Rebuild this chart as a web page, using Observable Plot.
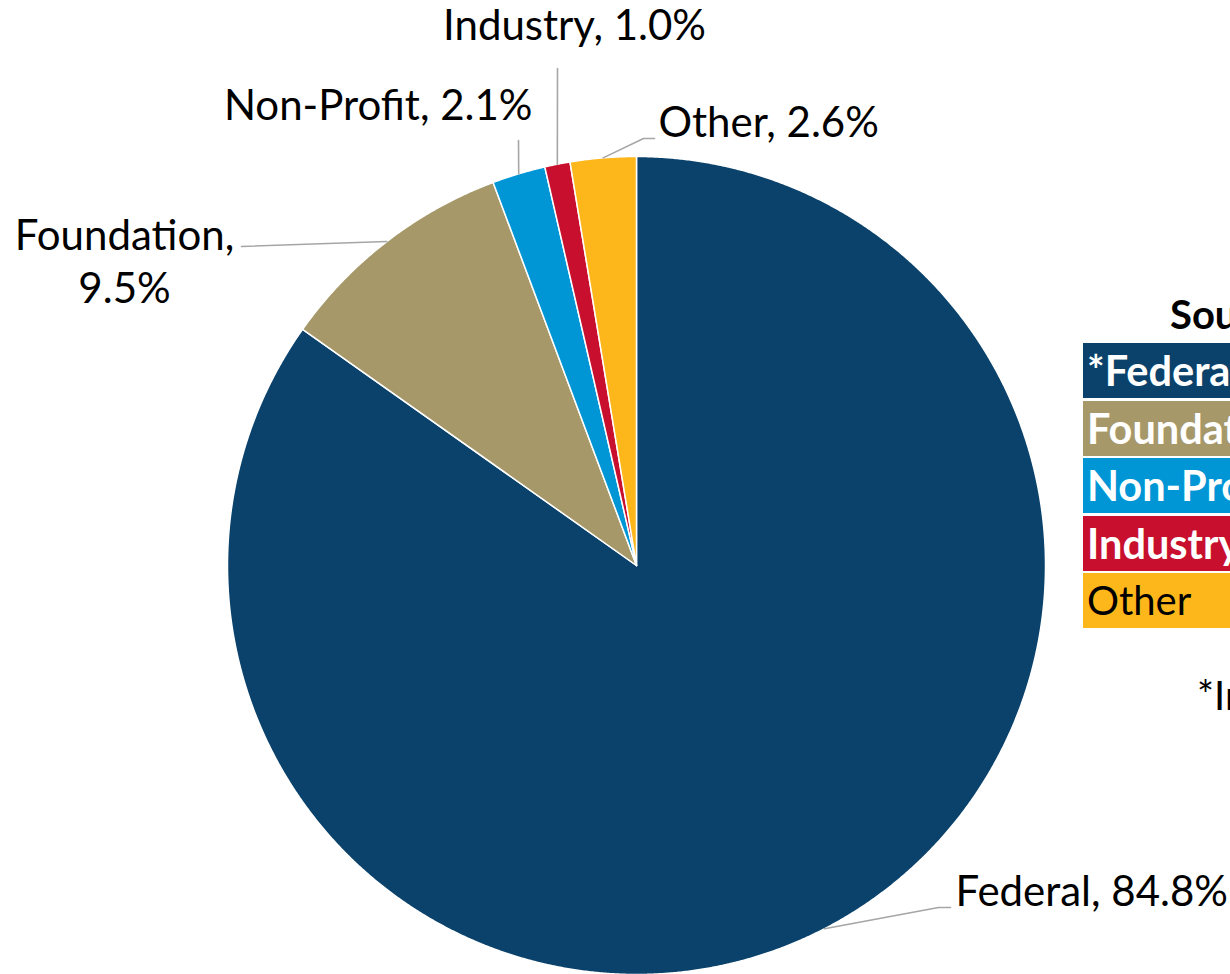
<!DOCTYPE html>
<html>
<head>
<meta charset="utf-8">
<script src="https://cdn.jsdelivr.net/npm/d3@7"></script>
<script src="https://cdn.jsdelivr.net/npm/@observablehq/plot@0.6"></script>
<style>
  html, body { margin: 0; padding: 0; background: #fff; overflow: hidden; }
  #wrap { position: relative; width: 1230px; height: 974px; overflow: hidden; font-family: Lato, "Open Sans", sans-serif; }
  #wrap svg { position: absolute; left: 0; top: 0; }
  .legend { position: absolute; left: 1083px; top: 343px; width: 300px; }
  .row { height: 55px; margin-bottom: 2.6px; line-height: 55px; padding-left: 4px; font-size: 41.5px; font-weight: bold; color: #fff; white-space: nowrap; }
  .row.plain { font-weight: normal; color: #000; font-size: 40px; }
  .ltitle { position: absolute; left: 1170px; top: 290px; font-size: 40px; font-weight: bold; white-space: nowrap; line-height: 48px; }
  .foot { position: absolute; left: 1197px; top: 671px; font-size: 40px; white-space: nowrap; line-height: 48px; }
</style>
</head>
<body>
<div id="wrap"></div>
<script>
// ---- data ----
const categories = ["Federal", "Foundation", "Non-Profit", "Industry", "Other"];
const shares = [84.8, 9.5, 2.1, 1.0, 2.6];
const colors = ["#0A426B", "#A69868", "#0096D6", "#C8102E", "#FDB71A"];
const legendTitle = "Sources";
const legendLabels = ["*Federal", "Foundation", "Non-Profit", "Industry", "Other"];
const footnote = "*Includes";

// ---- layout ----
const W = 1230, H = 974;
const cx = 636, cy = 565, R = 409;
const FS = 42;
// leader elbows and text anchors (pixels), per category; ty = baseline of first line
const labelLayout = {
  "Federal":    {path: [[938, 907], [950, 907]], tx: 955, ty: 906, anchor: "start", lines: 1},
  "Foundation": {path: [[241, 246]], tx: 124, ty: 250, anchor: "middle", lines: 2},
  "Non-Profit": {path: [[518, 140]], tx: 532, ty: 120, anchor: "end", lines: 1},
  "Industry":   {path: [[557, 68]], tx: 574, ty: 40, anchor: "middle", lines: 1},
  "Other":      {path: [[643, 138], [654, 138]], tx: 658, ty: 137, anchor: "start", lines: 1}
};

const data = categories.map((c, i) => ({cat: c, v: shares[i], color: colors[i]}));
const arcs = d3.pie().sort(null).value(d => d.v)(data);

const px = a => cx + R * Math.sin(a);
const py = a => cy - R * Math.cos(a);

// slice polygons
const slicePts = [];
arcs.forEach(a => {
  const cat = a.data.cat;
  slicePts.push({cat, x: cx, y: cy});
  const n = Math.max(2, Math.ceil((a.endAngle - a.startAngle) / 0.004));
  for (let k = 0; k <= n; k++) {
    const t = a.startAngle + (a.endAngle - a.startAngle) * k / n;
    slicePts.push({cat, x: px(t), y: py(t)});
  }
  slicePts.push({cat, x: cx, y: cy});
});

// leaders
const leaderPts = [];
arcs.forEach(a => {
  const cat = a.data.cat;
  const mid = (a.startAngle + a.endAngle) / 2;
  leaderPts.push({cat, x: px(mid), y: py(mid)});
  labelLayout[cat].path.forEach(p => leaderPts.push({cat, x: p[0], y: p[1]}));
});

// labels
const labels = arcs.map(a => {
  const L = labelLayout[a.data.cat];
  const txt = L.lines === 2 ? `${a.data.cat},\n${a.data.v.toFixed(1)}%` : `${a.data.cat}, ${a.data.v.toFixed(1)}%`;
  return {cat: a.data.cat, text: txt, x: L.tx, y: L.ty, anchor: L.anchor};
});

const labelMarks = labels.map(r => Plot.text([r], {
  x: "x", y: "y", text: "text", fontSize: FS, fill: "#000",
  textAnchor: r.anchor, lineAnchor: "top", lineHeight: 1.27,
  dy: -FS * 0.78 - 6
}));

const chart = Plot.plot({
  width: W, height: H,
  margin: 0,
  style: {fontFamily: "Lato, 'Open Sans', sans-serif", background: "transparent"},
  x: {domain: [0, W], range: [0, W], axis: null},
  y: {domain: [0, H], range: [0, H], axis: null},
  color: {domain: categories, range: colors},
  marks: [
    Plot.line(slicePts, {x: "x", y: "y", z: "cat", fill: "cat", stroke: "#fff", strokeWidth: 1.5, strokeLinejoin: "round"}),
    Plot.line(leaderPts, {x: "x", y: "y", z: "cat", stroke: "#A6A6A6", strokeWidth: 1.6}),
    ...labelMarks
  ]
});

const wrap = document.getElementById("wrap");
wrap.appendChild(chart);

// legend
const title = document.createElement("div");
title.className = "ltitle";
title.textContent = legendTitle;
wrap.appendChild(title);

const leg = document.createElement("div");
leg.className = "legend";
legendLabels.forEach((l, i) => {
  const r = document.createElement("div");
  r.className = "row" + (categories[i] === "Other" ? " plain" : "");
  r.style.background = colors[i];
  r.textContent = l;
  leg.appendChild(r);
});
wrap.appendChild(leg);

const foot = document.createElement("div");
foot.className = "foot";
foot.textContent = footnote;
wrap.appendChild(foot);
</script>
</body>
</html>
